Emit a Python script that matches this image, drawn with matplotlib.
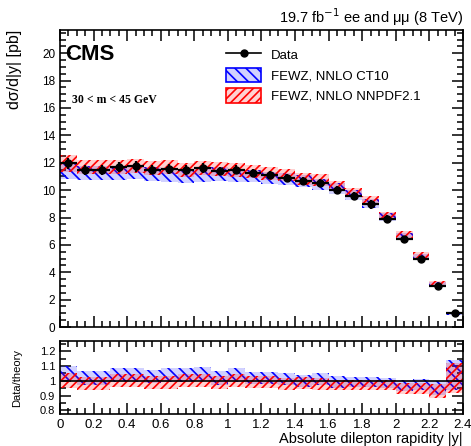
import numpy as np
import matplotlib.pyplot as plt
from matplotlib.ticker import MultipleLocator
from matplotlib.patches import Patch
from matplotlib.lines import Line2D

plt.rcParams['font.family'] = ['Liberation Sans', 'DejaVu Sans']
plt.rcParams['hatch.linewidth'] = 1.2

# bins of absolute rapidity
edges = np.round(np.arange(0, 2.41, 0.1), 2)
yc = 0.5 * (edges[:-1] + edges[1:])

data = np.array([11.95, 11.45, 11.45, 11.7, 11.75, 11.5, 11.55, 11.45, 11.6, 11.4, 11.5, 11.25,
                 11.1, 10.9, 10.65, 10.5, 10.0, 9.55, 8.95, 7.9, 6.4, 5.0, 3.0, 1.05])
data_err = np.array([0.4, 0.35, 0.35, 0.35, 0.4, 0.35, 0.35, 0.35, 0.35, 0.3, 0.3, 0.3,
                     0.3, 0.3, 0.3, 0.3, 0.3, 0.3, 0.3, 0.3, 0.25, 0.2, 0.15, 0.1])

# data/theory ratios
r_ct10 = np.array([1.05, 1.02, 1.02, 1.04, 1.04, 1.03, 1.04, 1.04, 1.045, 1.02, 1.04, 1.02,
                   1.02, 1.01, 1.0, 1.01, 0.99, 0.99, 0.99, 0.985, 0.97, 0.975, 0.95, 1.04])
r_nnpdf = np.array([1.0, 0.98, 0.98, 1.0, 1.0, 0.99, 0.99, 1.0, 1.0, 0.99, 1.0, 0.99,
                    0.99, 0.98, 0.985, 0.98, 0.97, 0.97, 0.97, 0.97, 0.95, 0.95, 0.93, 1.02])
u_ct10 = np.array([0.05, 0.045, 0.045, 0.045, 0.045, 0.045, 0.045, 0.045, 0.045, 0.045, 0.045, 0.04,
                   0.04, 0.04, 0.04, 0.04, 0.04, 0.035, 0.035, 0.035, 0.04, 0.04, 0.05, 0.10])
u_nnpdf = np.array([0.05, 0.045, 0.045, 0.045, 0.045, 0.045, 0.045, 0.045, 0.045, 0.045, 0.045, 0.04,
                    0.04, 0.04, 0.04, 0.04, 0.035, 0.035, 0.035, 0.035, 0.04, 0.04, 0.05, 0.10])

th_ct10 = data / r_ct10
th_nnpdf = data / r_nnpdf

fig = plt.figure(figsize=(4.71, 4.46), dpi=100)
ax = fig.add_axes([0.1274, 0.2668, 0.8556, 0.666])
axr = fig.add_axes([0.1274, 0.0717, 0.8556, 0.1637])

bw = np.diff(edges)


def band(a, x, c, err, col, h):
    a.bar(x, 2 * err, width=bw, bottom=c - err, facecolor=col + (0.18,),
          edgecolor=col, hatch=h, linewidth=0, zorder=2)


band(ax, yc, th_ct10, th_ct10 * u_ct10, (0.0, 0.0, 1.0), '\\\\\\')
band(ax, yc, th_nnpdf, th_nnpdf * u_nnpdf, (1.0, 0.0, 0.0), '////')
ax.errorbar(yc, data, yerr=data_err, xerr=bw / 2, fmt='o', color='black', ms=5,
            elinewidth=1.6, capsize=0, zorder=5)

band(axr, yc, r_ct10, r_ct10 * u_ct10, (0.0, 0.0, 1.0), '\\\\\\')
band(axr, yc, r_nnpdf, r_nnpdf * u_nnpdf, (1.0, 0.0, 0.0), '////')
axr.axhline(1.0, color='black', lw=1.2, zorder=4)

ax.set_xlim(0, 2.4)
ax.set_ylim(0, 21.7)
axr.set_xlim(0, 2.4)
axr.set_ylim(0.775, 1.27)

for a in (ax, axr):
    a.xaxis.set_major_locator(MultipleLocator(0.2))
    a.xaxis.set_minor_locator(MultipleLocator(0.05))
    a.tick_params(which='both', direction='in', top=True, right=True, labelsize=8.5, width=1.1)
    a.tick_params(which='major', length=8)
    a.tick_params(which='minor', length=4)
    for s in a.spines.values():
        s.set_linewidth(1.2)
ax.yaxis.set_major_locator(MultipleLocator(2))
ax.yaxis.set_minor_locator(MultipleLocator(0.5))
ax.set_xticklabels([])
axr.yaxis.set_major_locator(MultipleLocator(0.1))
axr.yaxis.set_minor_locator(MultipleLocator(0.05))
axr.set_yticks([0.8, 0.9, 1.0, 1.1, 1.2])
axr.set_yticklabels(['0.8', '0.9', '1', '1.1', '1.2'], fontsize=8)
axr.set_xticks(np.round(np.arange(0, 2.41, 0.2), 1))
axr.set_xticklabels(['0', '0.2', '0.4', '0.6', '0.8', '1', '1.2', '1.4', '1.6', '1.8', '2', '2.2', '2.4'],
                    fontsize=9.5)

ax.set_ylabel('d\u03c3/d|y| [pb]', fontsize=11.5, loc='top')
axr.set_ylabel('Data/theory', fontsize=8)
axr.set_xlabel('Absolute dilepton rapidity |y|', fontsize=10.5, loc='right', labelpad=1)
ax.yaxis.set_label_coords(-0.095, 1.0)
axr.yaxis.set_label_coords(-0.095, 0.5)

ax.text(0.012, 0.9, 'CMS', transform=ax.transAxes, fontsize=16, fontweight='bold')
ax.text(0.03, 0.755, '30 < m < 45 GeV', transform=ax.transAxes, fontsize=8.5,
        fontweight='bold', family='Liberation Serif')
ax.text(1.0, 1.025, '19.7 fb$^{-1}$ ee and \u03bc\u03bc (8 TeV)', transform=ax.transAxes,
        fontsize=10.5, ha='right')

handles = [Line2D([], [], color='black', marker='o', ms=5, lw=1.2),
           Patch(facecolor=(0, 0, 1, 0.18), edgecolor='blue', hatch='\\\\\\', linewidth=1.2),
           Patch(facecolor=(1, 0, 0, 0.18), edgecolor='red', hatch='////', linewidth=1.2)]
ax.legend(handles, ['Data', 'FEWZ, NNLO CT10', 'FEWZ, NNLO NNPDF2.1'], loc='upper left',
          bbox_to_anchor=(0.4, 0.96), frameon=False, fontsize=9.5, handlelength=2.6,
          handleheight=1.3, labelspacing=0.45, borderaxespad=0)

fig.savefig('out.png', dpi=100)
